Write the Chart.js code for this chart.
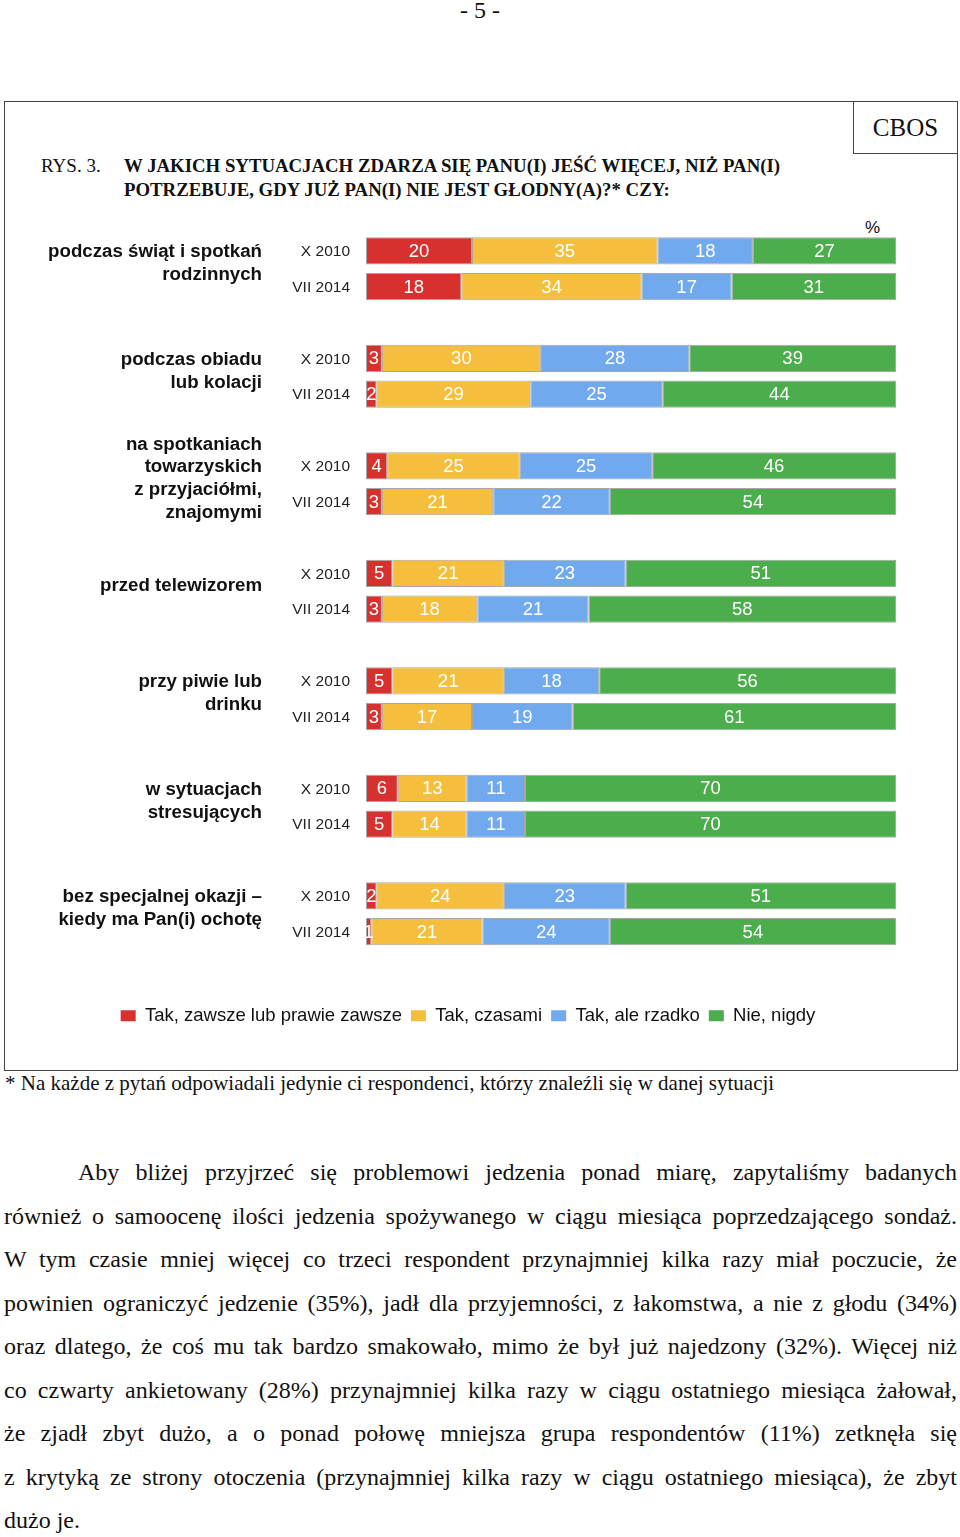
<!DOCTYPE html>
<html lang="pl">
<head>
<meta charset="utf-8">
<title>RYS. 3.</title>
<script src="https://cdn.jsdelivr.net/npm/chart.js@4.4.1/dist/chart.umd.min.js"></script>
<style>
  html, body { margin: 0; padding: 0; background: #fff; }
  body { position: relative; width: 960px; height: 1537px; overflow: hidden; color: #111; }
  .serif { font-family: "Liberation Serif", "Times New Roman", serif; }
  .abs { position: absolute; white-space: nowrap; }
  #page-no { left: 0; width: 960px; top: -2px; text-align: center; font-size: 24px; line-height: 24px; }
  #frame { left: 4px; top: 101px; width: 952px; height: 968px; border: 1px solid #444; }
  #cbos { left: 853px; top: 101px; width: 103px; height: 51px; border: 1px solid #444; font-size: 25px; line-height: 51px; text-align: center; }
  #rys { left: 41px; top: 154px; font-size: 19px; line-height: 24px; }
  #title { left: 124px; top: 154px; font-size: 18.8px; line-height: 24px; font-weight: bold; }
  #pct { left: 865px; top: 218px; font: 17px "Liberation Sans", Arial, sans-serif; }
  #chart-box { position: absolute; left: 0; top: 200px; width: 960px; height: 850px; }
  #note { left: 5px; top: 1071px; font-size: 21px; line-height: 24px; }
  #text { position: absolute; left: 4px; top: 1151px; width: 953px; font-size: 24px; line-height: 43.5px; }
  #text div { text-align: justify; text-align-last: justify; white-space: normal; }
  #text div.first { text-indent: 74px; }
  #text div.last { text-align-last: left; }
</style>
</head>
<body>
<div id="page-no" class="abs serif">- 5 -</div>
<div id="frame" class="abs"></div>
<div id="cbos" class="abs serif">CBOS</div>
<div id="rys" class="abs serif">RYS. 3.</div>
<div id="title" class="abs serif">W JAKICH SYTUACJACH ZDARZA SIĘ PANU(I) JEŚĆ WIĘCEJ, NIŻ PAN(I)<br>POTRZEBUJE, GDY JUŻ PAN(I) NIE JEST GŁODNY(A)?* CZY:</div>
<div id="pct" class="abs">%</div>
<div id="chart-box"><canvas id="situationsChart"></canvas></div>
<div id="note" class="abs serif">* Na każde z pytań odpowiadali jedynie ci respondenci, którzy znaleźli się w danej sytuacji</div>
<div id="text" class="serif">
  <div class="first">Aby bliżej przyjrzeć się problemowi jedzenia ponad miarę, zapytaliśmy badanych</div>
  <div>również o samoocenę ilości jedzenia spożywanego w ciągu miesiąca poprzedzającego sondaż.</div>
  <div>W tym czasie mniej więcej co trzeci respondent przynajmniej kilka razy miał poczucie, że</div>
  <div>powinien ograniczyć jedzenie (35%), jadł dla przyjemności, z łakomstwa, a nie z głodu (34%)</div>
  <div>oraz dlatego, że coś mu tak bardzo smakowało, mimo że był już najedzony (32%). Więcej niż</div>
  <div>co czwarty ankietowany (28%) przynajmniej kilka razy w ciągu ostatniego miesiąca żałował,</div>
  <div>że zjadł zbyt dużo, a o ponad połowę mniejsza grupa respondentów (11%) zetknęła się</div>
  <div>z krytyką ze strony otoczenia (przynajmniej kilka razy w ciągu ostatniego miesiąca), że zbyt</div>
  <div class="last">dużo je.</div>
</div>

<script>
// Situations (rows), each with two survey waves
const situations = [
  ['podczas świąt i spotkań', 'rodzinnych'],
  ['podczas obiadu', 'lub kolacji'],
  ['na spotkaniach', 'towarzyskich', 'z przyjaciółmi,', 'znajomymi'],
  ['przed telewizorem'],
  ['przy piwie lub', 'drinku'],
  ['w sytuacjach', 'stresujących'],
  ['bez specjalnej okazji \u2013', 'kiedy ma Pan(i) ochotę']
];
const waves = ['X 2010', 'VII 2014'];
const answers = ['Tak, zawsze lub prawie zawsze', 'Tak, czasami', 'Tak, ale rzadko', 'Nie, nigdy'];

// Percentages, X 2010
const always2010 = [20, 3, 4, 5, 5, 6, 2];
const sometimes2010 = [35, 30, 25, 21, 21, 13, 24];
const rarely2010 = [18, 28, 25, 23, 18, 11, 23];
const never2010 = [27, 39, 46, 51, 56, 70, 51];

// Percentages, VII 2014
const always2014 = [18, 2, 3, 3, 3, 5, 1];
const sometimes2014 = [34, 29, 21, 18, 17, 14, 21];
const rarely2014 = [17, 25, 22, 21, 19, 11, 24];
const never2014 = [31, 44, 54, 58, 61, 70, 54];

const colors = ['#D6302F', '#F5BF3D', '#70A9EE', '#4BAD4C'];

const series2010 = [always2010, sometimes2010, rarely2010, never2010];
const series2014 = [always2014, sometimes2014, rarely2014, never2014];

// Build datasets: one per answer and wave, stacked per wave
const datasets = [];
answers.forEach((answer, i) => {
  [series2010[i], series2014[i]].forEach((values, w) => {
    datasets.push({
      label: answer,
      data: values,
      stack: waves[w],
      backgroundColor: colors[i],
      borderColor: 'rgba(80, 80, 80, 0.5)',
      borderWidth: 1,
      borderSkipped: false,
      categoryPercentage: 0.665,
      barPercentage: 0.756
    });
  });
});

const sansFont = "'Liberation Sans', Arial, sans-serif";

// Value labels inside segments and wave labels left of the bars
const barTextPlugin = {
  id: 'barText',
  afterDatasetsDraw(chart) {
    const ctx = chart.ctx;
    ctx.save();
    ctx.textBaseline = 'middle';
    ctx.textAlign = 'center';
    ctx.fillStyle = '#ffffff';
    ctx.font = '18.5px ' + sansFont;
    chart.data.datasets.forEach((ds, di) => {
      chart.getDatasetMeta(di).data.forEach((bar, j) => {
        const p = bar.getProps(['x', 'y', 'base'], true);
        ctx.fillText(String(ds.data[j]), (p.x + p.base) / 2, p.y + 1);
      });
    });

    ctx.textAlign = 'right';
    ctx.fillStyle = '#222';
    ctx.font = '15.5px ' + sansFont;
    [0, 1].forEach(w => {
      chart.getDatasetMeta(w).data.forEach(bar => {
        ctx.fillText(waves[w], chart.chartArea.left - 16, bar.y + 1);
      });
    });
    ctx.restore();
  }
};

const legendLabels = chart => Chart.defaults.plugins.legend.labels.generateLabels(chart)
  .filter(item => item.datasetIndex % 2 === 0)
  .map(item => Object.assign(item, { lineWidth: 0 }));

new Chart(document.getElementById('situationsChart'), {
  type: 'bar',
  data: {
    labels: situations,
    datasets
  },
  options: {
    indexAxis: 'y',
    responsive: true,
    maintainAspectRatio: false,
    animation: false,
    layout: {
      padding: { left: 40, right: 64, top: 15, bottom: 15 }
    },
    scales: {
      x: {
        stacked: true,
        min: 0,
        max: 100,
        display: false
      },
      y: {
        stacked: true,
        grid: { display: false, drawTicks: false },
        border: { display: false },
        ticks: {
          padding: 104,
          labelOffset: -5,
          color: '#111',
          font: { family: sansFont, size: 18.7, weight: 'bold', lineHeight: 1.22 }
        },
        afterFit(scale) {
          scale.width = 326;
          // label padding should not push the plot area down
          scale.paddingTop = 0;
          scale.paddingBottom = 0;
        }
      }
    },
    plugins: {
      legend: {
        position: 'bottom',
        title: { display: true, text: '', font: { size: 10 }, padding: { top: 18, bottom: 0 } },
        labels: {
          boxWidth: 15,
          boxHeight: 11,
          padding: 9,
          color: '#111',
          font: { family: sansFont, size: 18.5 },
          generateLabels: legendLabels
        }
      },
      tooltip: { enabled: false }
    }
  },
  plugins: [barTextPlugin]
});
</script>
</body>
</html>
